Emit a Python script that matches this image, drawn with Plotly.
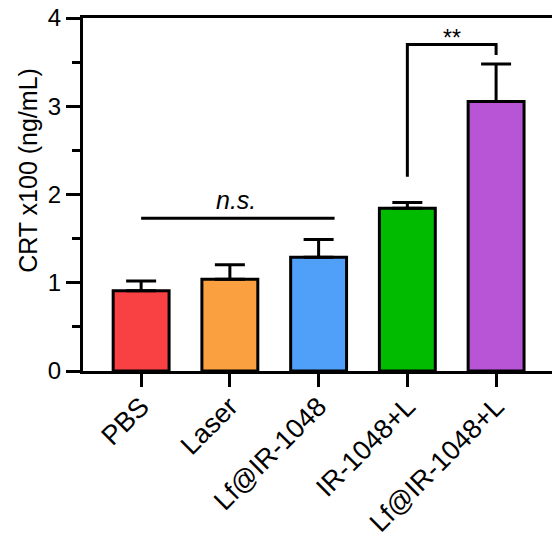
import plotly.graph_objects as go

groups = ["PBS", "Laser", "Lf@IR-1048", "IR-1048+L", "Lf@IR-1048+L"]
means = [0.91, 1.04, 1.29, 1.845, 3.055]
sd_upper = [0.11, 0.165, 0.20, 0.065, 0.425]
colors = ["#F94144", "#FBA040", "#50A0FA", "#00BB00", "#B855D6"]

y_ticks = [0, 1, 2, 3, 4]
ns_level = 1.73
ns_span = [0, 2.18]
sig_level = 3.70
sig_left_base = 2.20
sig_right_base = 3.58

FONT = "Liberation Sans, Arial, sans-serif"

fig = go.Figure()
fig.add_trace(go.Bar(
    x=list(range(len(groups))),
    y=means,
    width=0.63,
    marker=dict(color=colors, line=dict(color="black", width=3)),
    error_y=dict(type="data", array=sd_upper, arrayminus=[0] * len(means),
                 symmetric=False, color="black", thickness=3, width=15),
    showlegend=False,
))

# n.s. bar across the first three groups
fig.add_shape(type="line", x0=ns_span[0], x1=ns_span[1], y0=ns_level, y1=ns_level,
              line=dict(color="black", width=3))
fig.add_annotation(x=(ns_span[0] + ns_span[1]) / 2 - 0.02, y=ns_level, yshift=2,
                   text="<i>n.s.</i>", showarrow=False, yanchor="bottom",
                   font=dict(family=FONT, size=25, color="black"))

# ** bracket between the two irradiated groups
fig.add_shape(type="path",
              path=f"M 3,{sig_left_base} L 3,{sig_level} L 4,{sig_level} L 4,{sig_right_base}",
              line=dict(color="black", width=3))
fig.add_annotation(x=3.5, y=sig_level, yshift=-9, text="**", showarrow=False,
                   yanchor="bottom", font=dict(family=FONT, size=23, color="black"))

# y-axis title, placed a little above the axis midpoint
fig.add_annotation(xref="paper", yref="paper", x=0, y=0.567, xshift=-55,
                   text="CRT x100 (ng/mL)", textangle=-90, showarrow=False,
                   xanchor="center", yanchor="middle",
                   font=dict(family=FONT, size=25, color="black"))

fig.update_layout(
    width=552, height=540,
    margin=dict(l=83, r=0, t=18, b=169, autoexpand=False),
    plot_bgcolor="white", paper_bgcolor="white",
    font=dict(family=FONT, size=24, color="black"),
    xaxis=dict(
        range=[-0.655, 4.63], automargin=False,
        tickmode="array", tickvals=list(range(len(groups))), ticktext=groups,
        tickangle=-45, ticks="outside", ticklen=13, tickwidth=3, tickcolor="black",
        ticklabelstandoff=-7,
        showline=True, linecolor="black", linewidth=3, mirror=True,
        showgrid=False, zeroline=False,
        tickfont=dict(family=FONT, size=27, color="black"),
    ),
    yaxis=dict(
        range=[0, 4], automargin=False,
        tickmode="array", tickvals=y_ticks,
        ticks="outside", ticklen=14, tickwidth=3, tickcolor="black",
        minor=dict(dtick=0.5, ticks="outside", ticklen=8, tickwidth=3, tickcolor="black"),
        showline=True, linecolor="black", linewidth=3,
        showgrid=False, zeroline=False,
        tickfont=dict(family=FONT, size=24, color="black"),
    ),
)

fig.write_html("out.html")
